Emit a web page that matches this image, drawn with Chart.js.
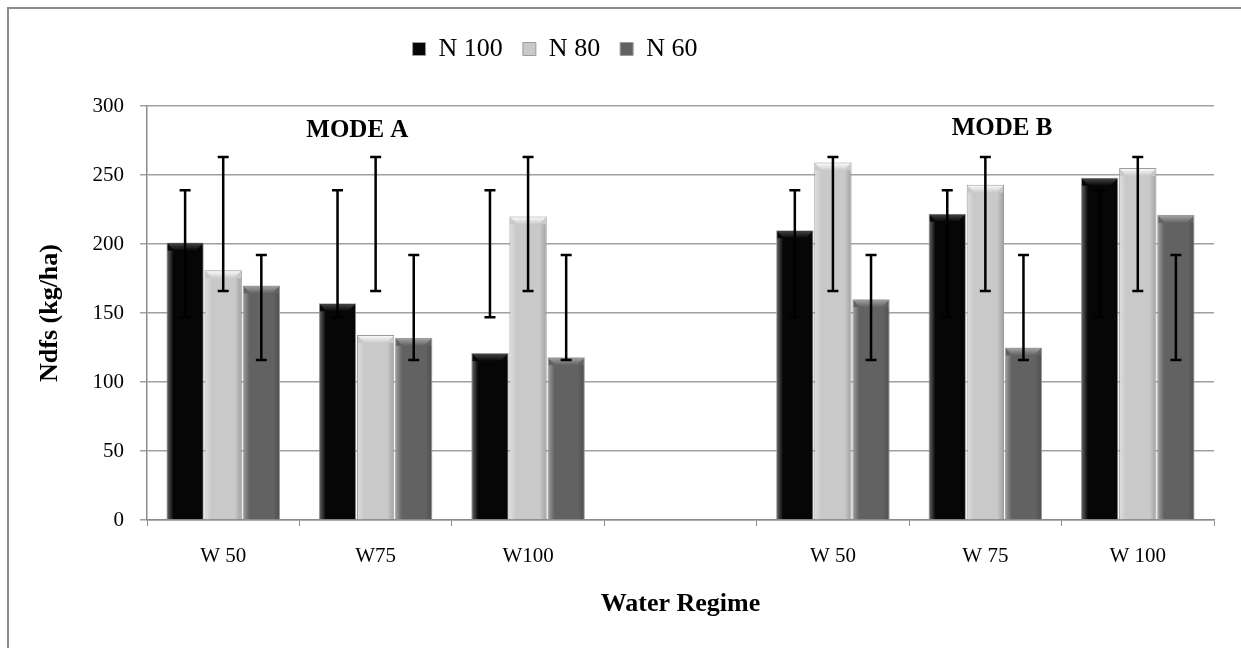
<!DOCTYPE html>
<html>
<head>
<meta charset="utf-8">
<script src="https://cdn.jsdelivr.net/npm/chart.js@4"></script>
<style>
  body { margin: 0; background: #fff; }
  #wrap { position: absolute; left: 0; top: 0; width: 1241px; height: 648px; }
  #frame { position: absolute; left: 7px; top: 7px; width: 1250px; height: 660px;
           border-top: 2px solid #8c8c8c; border-left: 2px solid #8c8c8c; pointer-events: none; }
</style>
</head>
<body>
<div id="wrap"><canvas id="ndfsChart"></canvas></div>
<div id="frame"></div>
<script>
// categorias (la cuarta vacia separa MODE A y MODE B)
const categories = ['W 50', 'W75', 'W100', '', 'W 50', 'W 75', 'W 100'];
const seriesNames = ['N 100', 'N 80', 'N 60'];

// valores de Ndfs (kg/ha)
const n100 = [201, 157, 121, null, 210, 222, 248];
const n80 = [181, 134, 220, null, 259, 243, 255];
const n60 = [170, 132, 118, null, 160, 125, 221];

// barras de error (limite inferior y superior)
const n100Low = [147, 147, 147, null, 147, 147, 147];
const n100High = [239, 239, 239, null, 239, 239, 239];
const n80Low = [166, 166, 166, null, 166, 166, 166];
const n80High = [263, 263, 263, null, 263, 263, 263];
const n60Low = [116, 116, 116, null, 116, 116, 116];
const n60High = [192, 192, 192, null, 192, 192, 192];

const yTicks = [0, 50, 100, 150, 200, 250, 300];

// etiquetas de modo (posicion en categoria, valor)
const modeText = ['MODE A', 'MODE B'];
const modeAt = [0.88, 5.11];
const modeValue = [282, 284];

const FONT = "'Liberation Serif', 'Times New Roman', serif";
const fills = ['#060606', '#c9c9c9', '#626262'];
const tops = ['#4a4a4a', '#ffffff', '#a8a8a8'];
const errLow = [n100Low, n80Low, n60Low];
const errHigh = [n100High, n80High, n60High];

// Espacio extra debajo de la leyenda y leyenda algo a la izquierda
const legendSpace = {
    id: 'legendSpace',
    afterInit(chart) {
        const lg = chart.legend;
        const fit = lg.fit.bind(lg);
        lg.fit = function () { fit(); this.height += 34; };
    },
    afterLayout(chart) {
        chart.legend.left -= 52;
        chart.legend.right -= 52;
    }
};

// Relieve de las barras
const bevelPlugin = {
    id: 'bevel',
    afterDatasetsDraw(chart) {
        const ctx = chart.ctx;
        chart.data.datasets.forEach((ds, i) => {
            const meta = chart.getDatasetMeta(i);
            meta.data.forEach((bar, j) => {
                if (ds.data[j] === null) return;
                const {x, y, base, width} = bar.getProps(['x', 'y', 'base', 'width'], true);
                const l = x - width / 2 + 1, r = x + width / 2 - 1, b = 8;
                ctx.save();
                // cara superior
                const g = ctx.createLinearGradient(0, y, 0, y + b);
                g.addColorStop(0, tops[i]);
                g.addColorStop(1, fills[i]);
                ctx.fillStyle = g;
                ctx.beginPath();
                ctx.moveTo(l, y + 1);
                ctx.lineTo(r, y + 1);
                ctx.lineTo(r - b, y + b + 1);
                ctx.lineTo(l + b, y + b + 1);
                ctx.closePath();
                ctx.fill();
                // lado izquierdo
                const gl = ctx.createLinearGradient(l, 0, l + 6, 0);
                gl.addColorStop(0, 'rgba(255,255,255,0.35)');
                gl.addColorStop(1, 'rgba(255,255,255,0)');
                ctx.fillStyle = gl;
                ctx.fillRect(l, y + b, 6, base - y - b);
                // lado derecho
                const gr = ctx.createLinearGradient(r - 6, 0, r, 0);
                gr.addColorStop(0, 'rgba(0,0,0,0)');
                gr.addColorStop(1, 'rgba(0,0,0,0.18)');
                ctx.fillStyle = gr;
                ctx.fillRect(r - 6, y + b, 6, base - y - b);
                ctx.restore();
            });
        });
    }
};

// Barras de error
const errorBarPlugin = {
    id: 'errorBars',
    afterDatasetsDraw(chart) {
        const ctx = chart.ctx;
        const yScale = chart.scales.y;
        ctx.save();
        ctx.strokeStyle = '#000';
        ctx.lineWidth = 2.5;
        chart.data.datasets.forEach((ds, i) => {
            const meta = chart.getDatasetMeta(i);
            meta.data.forEach((bar, j) => {
                if (errLow[i][j] === null) return;
                const x = bar.x;
                const yl = yScale.getPixelForValue(errLow[i][j]);
                const yh = yScale.getPixelForValue(errHigh[i][j]);
                ctx.beginPath();
                ctx.moveTo(x, yl); ctx.lineTo(x, yh);
                ctx.moveTo(x - 5.5, yl); ctx.lineTo(x + 5.5, yl);
                ctx.moveTo(x - 5.5, yh); ctx.lineTo(x + 5.5, yh);
                ctx.stroke();
            });
        });
        ctx.restore();
    }
};

// Textos MODE A / MODE B
const modePlugin = {
    id: 'modeLabels',
    afterDraw(chart) {
        const ctx = chart.ctx;
        ctx.save();
        ctx.font = 'bold 25px ' + FONT;
        ctx.fillStyle = '#000';
        ctx.textAlign = 'center';
        ctx.textBaseline = 'middle';
        modeText.forEach((t, k) => {
            ctx.fillText(t, chart.scales.x.getPixelForValue(modeAt[k]), chart.scales.y.getPixelForValue(modeValue[k]));
        });
        ctx.restore();
    }
};

const data = {
    labels: categories,
    datasets: [n100, n80, n60].map((vals, i) => ({
        label: seriesNames[i],
        data: vals,
        backgroundColor: fills[i],
        borderColor: '#9c9c9c',
        borderWidth: 1,
        barPercentage: 0.98,
        categoryPercentage: 0.75
    }))
};

const options = {
    responsive: true,
    maintainAspectRatio: false,
    animation: false,
    layout: { padding: { top: 16, right: 27, bottom: 0, left: 0 } },
    plugins: {
        legend: {
            position: 'top',
            labels: {
                font: { family: FONT, size: 26 },
                color: '#000',
                boxWidth: 13,
                boxHeight: 13,
                padding: 20
            }
        },
        tooltip: { enabled: false }
    },
    scales: {
        x: {
            grid: { display: true, drawOnChartArea: false, drawTicks: true, tickLength: 6, color: '#8c8c8c', offset: true },
            border: { color: '#8c8c8c', width: 1.5 },
            ticks: { font: { family: FONT, size: 21 }, color: '#000', padding: 18, maxRotation: 0 },
            title: { display: true, text: 'Water Regime', font: { family: FONT, size: 26, weight: 'bold' }, color: '#000', padding: { top: 0, bottom: 28 } },
            afterFit: scale => { scale.height = 128; }
        },
        y: {
            min: 0,
            max: 300,
            afterBuildTicks: scale => { scale.ticks = yTicks.map(v => ({ value: v })); },
            grid: { color: '#a0a0a0', lineWidth: 1.5, tickLength: 7 },
            border: { color: '#8c8c8c', width: 1.5 },
            ticks: { font: { family: FONT, size: 21 }, color: '#000', padding: 16 },
            title: { display: true, text: 'Ndfs (kg/ha)', font: { family: FONT, size: 26, weight: 'bold' }, color: '#000', padding: { top: 35, bottom: 0 } },
            afterFit: scale => { scale.width = 147; }
        }
    }
};

new Chart('ndfsChart', { type: 'bar', data, options, plugins: [legendSpace, bevelPlugin, errorBarPlugin, modePlugin] });
</script>
</body>
</html>
